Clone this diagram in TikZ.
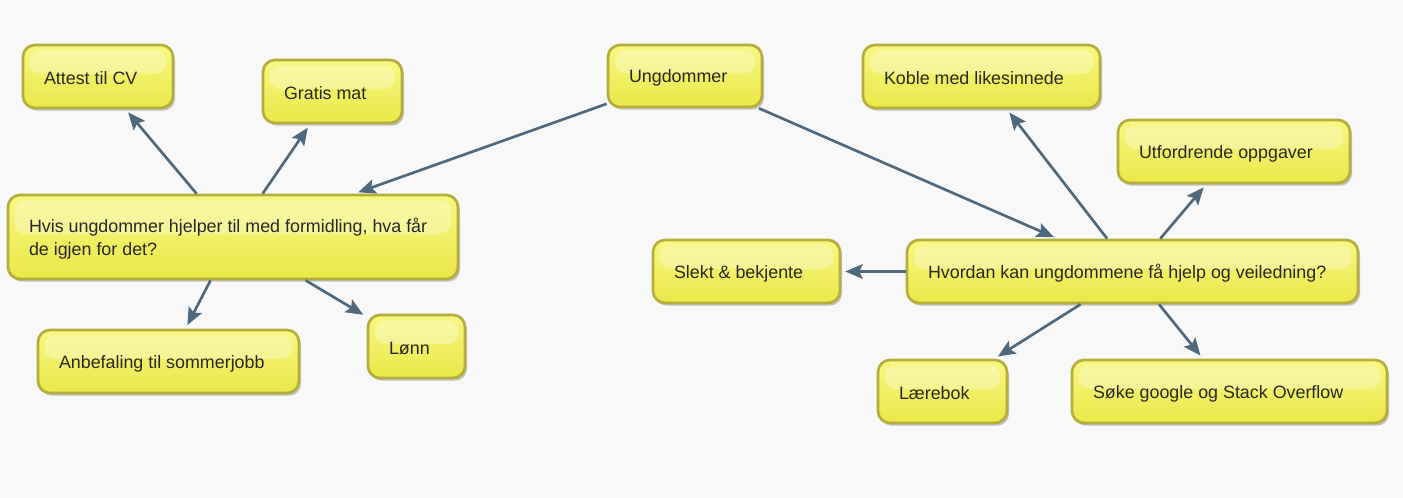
\documentclass[tikz,border=0pt]{standalone}
\usepackage{fontspec}
\setmainfont{Liberation Sans}
\usetikzlibrary{arrows.meta,shadows}
\definecolor{bg}{RGB}{248,248,248}
\definecolor{edgec}{RGB}{79,104,124}
\definecolor{bord}{RGB}{182,174,60}
\definecolor{ytop}{RGB}{247,247,130}
\definecolor{ybot}{RGB}{234,232,72}
\definecolor{txt}{RGB}{40,40,40}
\newcommand\boxtxt[1]{\raisebox{0pt}[\dimexpr\height+3pt\relax][\depth]{\parbox[t]{\bxw}{\raggedright #1}}}
\tikzset{
  boxsize/.code 2 args={%
    \pgfmathsetlengthmacro\bxw{(#1-42)*0.75pt}%
    \tikzset{minimum width=#1*0.75pt, minimum height=#2*0.75pt}},
  bx/.style={draw=bord, line width=2pt, rounded corners=9pt,
    top color=ytop, bottom color=ybot,
    inner xsep=15.75pt, inner ysep=0pt,
    font=\fontsize{13.4}{17.25}\selectfont, text=txt,
    drop shadow={shadow xshift=1.5pt, shadow yshift=-2pt, opacity=0.22, fill=black},
    path picture={\fill[white, opacity=0.3, rounded corners=8pt]
      ([xshift=5pt,yshift=-4pt]path picture bounding box.north west) rectangle
      ([xshift=-5pt,yshift=2pt]path picture bounding box.east);}},
  arr/.style={draw=edgec, line width=2pt, shorten >=3pt,
    -{Stealth[length=13pt, width=11pt, inset=2.5pt]}}
}
\begin{document}
\begin{tikzpicture}[x=0.75pt, y=-0.75pt]
\fill[bg] (0,0) rectangle (1403,498);
\useasboundingbox (0,0) rectangle (1403,498);

\node[bx, boxsize={150}{63}] (attest) at (98,76.5) {\boxtxt{Attest til CV}};
\node[bx, boxsize={139}{63}] (gratis) at (332.5,91.5) {\boxtxt{Gratis mat}};
\node[bx, boxsize={154}{62}] (ungd) at (685,76) {\boxtxt{Ungdommer}};
\node[bx, boxsize={237}{63}] (koble) at (981.5,76.5) {\boxtxt{Koble med likesinnede}};
\node[bx, boxsize={232}{63}] (utford) at (1234,151.5) {\boxtxt{Utfordrende oppgaver}};
\node[bx, boxsize={450}{84}] (hvis) at (233,237) {\boxtxt{Hvis ungdommer hjelper til med formidling, hva får\\de igjen for det?}};
\node[bx, boxsize={187}{63}] (slekt) at (746.5,271.5) {\boxtxt{Slekt \& bekjente}};
\node[bx, boxsize={451}{63}] (hvordan) at (1132.5,271.5) {\boxtxt{Hvordan kan ungdommene få hjelp og veiledning?}};
\node[bx, boxsize={261}{63}] (anbef) at (168.5,361.5) {\boxtxt{Anbefaling til sommerjobb}};
\node[bx, boxsize={97}{63}] (lonn) at (416.5,346.5) {\boxtxt{Lønn}};
\node[bx, boxsize={129}{63}] (laere) at (942.5,391.5) {\boxtxt{Lærebok}};
\node[bx, boxsize={315}{63}] (soke) at (1229.5,391.5) {\boxtxt{Søke google og Stack Overflow}};

\draw[arr] (hvis) -- (attest);
\draw[arr] (hvis) -- (gratis);
\draw[arr] (ungd) -- (hvis);
\draw[arr] (ungd) -- (hvordan);
\draw[arr] (hvis) -- (anbef);
\draw[arr] (hvis) -- (lonn);
\draw[arr] (hvordan) -- (koble);
\draw[arr] (hvordan) -- (utford);
\draw[arr] (hvordan) -- (slekt);
\draw[arr] (hvordan) -- (laere);
\draw[arr] (hvordan) -- (soke);
\end{tikzpicture}
\end{document}
